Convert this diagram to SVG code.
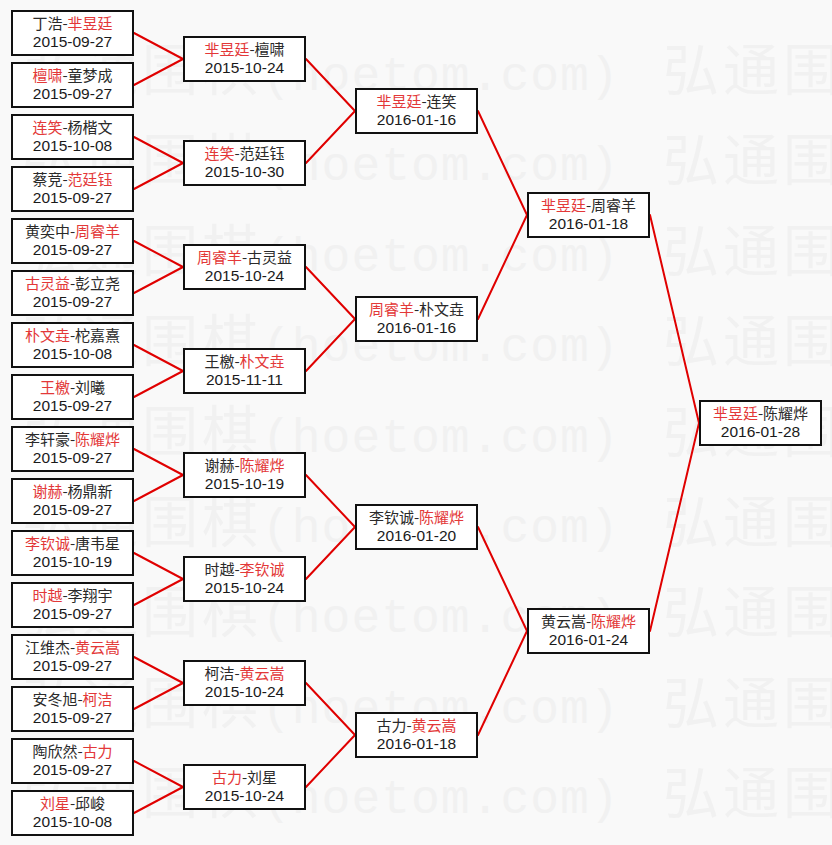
<svg xmlns="http://www.w3.org/2000/svg" width="832" height="845" viewBox="0 0 832 845">
<defs>
<style>
.bg{fill:#f9f9f9}
.wm{fill:#f1f1f1}
.wc{font-family:"Noto Sans CJK SC",sans-serif;font-size:56px;letter-spacing:4px}
.wa{font-family:"Liberation Mono",monospace;font-size:48px;letter-spacing:1px}
.box{fill:#ffffff;stroke:#111111;stroke-width:2}
.n{font-family:"Noto Sans CJK SC","Liberation Sans",sans-serif;font-size:15px;fill:#2a2a2a;text-anchor:middle}
.d{font-family:"Liberation Sans",sans-serif;font-size:15.5px;fill:#1a1a1a;text-anchor:middle}
.w{fill:#e33838}
.conn line{stroke:#e00000;stroke-width:2;stroke-linecap:round}
</style>
</defs>
<rect class="bg" x="0" y="0" width="832" height="845"/>
<g id="watermark" class="wm">
<text class="wc" x="22" y="90">弘通围棋</text><text class="wa" x="262" y="90">(hoetom.com)</text><text class="wc" x="663" y="90">弘通围</text>
<text class="wc" x="22" y="180">弘通围棋</text><text class="wa" x="262" y="180">(hoetom.com)</text><text class="wc" x="663" y="180">弘通围</text>
<text class="wc" x="22" y="271">弘通围棋</text><text class="wa" x="262" y="271">(hoetom.com)</text><text class="wc" x="663" y="271">弘通围</text>
<text class="wc" x="22" y="361">弘通围棋</text><text class="wa" x="262" y="361">(hoetom.com)</text><text class="wc" x="663" y="361">弘通围</text>
<text class="wc" x="22" y="452">弘通围棋</text><text class="wa" x="262" y="452">(hoetom.com)</text><text class="wc" x="663" y="452">弘通围</text>
<text class="wc" x="22" y="542">弘通围棋</text><text class="wa" x="262" y="542">(hoetom.com)</text><text class="wc" x="663" y="542">弘通围</text>
<text class="wc" x="22" y="632">弘通围棋</text><text class="wa" x="262" y="632">(hoetom.com)</text><text class="wc" x="663" y="632">弘通围</text>
<text class="wc" x="22" y="723">弘通围棋</text><text class="wa" x="262" y="723">(hoetom.com)</text><text class="wc" x="663" y="723">弘通围</text>
<text class="wc" x="22" y="813">弘通围棋</text><text class="wa" x="262" y="813">(hoetom.com)</text><text class="wc" x="663" y="813">弘通围</text>
</g>
<g id="connectors" class="conn">
<line x1="134" y1="33" x2="183" y2="59"/>
<line x1="134" y1="85" x2="183" y2="59"/>
<line x1="134" y1="137" x2="183" y2="163"/>
<line x1="134" y1="189" x2="183" y2="163"/>
<line x1="134" y1="241" x2="183" y2="267"/>
<line x1="134" y1="293" x2="183" y2="267"/>
<line x1="134" y1="345" x2="183" y2="371"/>
<line x1="134" y1="397" x2="183" y2="371"/>
<line x1="134" y1="449" x2="183" y2="475"/>
<line x1="134" y1="501" x2="183" y2="475"/>
<line x1="134" y1="553" x2="183" y2="579"/>
<line x1="134" y1="605" x2="183" y2="579"/>
<line x1="134" y1="657" x2="183" y2="683"/>
<line x1="134" y1="709" x2="183" y2="683"/>
<line x1="134" y1="761" x2="183" y2="787"/>
<line x1="134" y1="813" x2="183" y2="787"/>
<line x1="306" y1="59" x2="355" y2="111"/>
<line x1="306" y1="163" x2="355" y2="111"/>
<line x1="306" y1="267" x2="355" y2="319"/>
<line x1="306" y1="371" x2="355" y2="319"/>
<line x1="306" y1="475" x2="355" y2="527"/>
<line x1="306" y1="579" x2="355" y2="527"/>
<line x1="306" y1="683" x2="355" y2="735"/>
<line x1="306" y1="787" x2="355" y2="735"/>
<line x1="478" y1="111" x2="527" y2="215"/>
<line x1="478" y1="319" x2="527" y2="215"/>
<line x1="478" y1="527" x2="527" y2="631"/>
<line x1="478" y1="735" x2="527" y2="631"/>
<line x1="650" y1="215" x2="699" y2="423"/>
<line x1="650" y1="631" x2="699" y2="423"/>
</g>
<g id="r1-1"><rect class="box" x="12" y="11" width="121" height="44"/><text class="n" x="72.5" y="29">丁浩-<tspan class="w">芈昱廷</tspan></text><text class="d" x="72.5" y="47">2015-09-27</text></g>
<g id="r1-2"><rect class="box" x="12" y="63" width="121" height="44"/><text class="n" x="72.5" y="81"><tspan class="w">檀啸</tspan>-童梦成</text><text class="d" x="72.5" y="99">2015-09-27</text></g>
<g id="r1-3"><rect class="box" x="12" y="115" width="121" height="44"/><text class="n" x="72.5" y="133"><tspan class="w">连笑</tspan>-杨楷文</text><text class="d" x="72.5" y="151">2015-10-08</text></g>
<g id="r1-4"><rect class="box" x="12" y="167" width="121" height="44"/><text class="n" x="72.5" y="185">蔡竞-<tspan class="w">范廷钰</tspan></text><text class="d" x="72.5" y="203">2015-09-27</text></g>
<g id="r1-5"><rect class="box" x="12" y="219" width="121" height="44"/><text class="n" x="72.5" y="237">黄奕中-<tspan class="w">周睿羊</tspan></text><text class="d" x="72.5" y="255">2015-09-27</text></g>
<g id="r1-6"><rect class="box" x="12" y="271" width="121" height="44"/><text class="n" x="72.5" y="289"><tspan class="w">古灵益</tspan>-彭立尧</text><text class="d" x="72.5" y="307">2015-09-27</text></g>
<g id="r1-7"><rect class="box" x="12" y="323" width="121" height="44"/><text class="n" x="72.5" y="341"><tspan class="w">朴文垚</tspan>-柁嘉熹</text><text class="d" x="72.5" y="359">2015-10-08</text></g>
<g id="r1-8"><rect class="box" x="12" y="375" width="121" height="44"/><text class="n" x="72.5" y="393"><tspan class="w">王檄</tspan>-刘曦</text><text class="d" x="72.5" y="411">2015-09-27</text></g>
<g id="r1-9"><rect class="box" x="12" y="427" width="121" height="44"/><text class="n" x="72.5" y="445">李轩豪-<tspan class="w">陈耀烨</tspan></text><text class="d" x="72.5" y="463">2015-09-27</text></g>
<g id="r1-10"><rect class="box" x="12" y="479" width="121" height="44"/><text class="n" x="72.5" y="497"><tspan class="w">谢赫</tspan>-杨鼎新</text><text class="d" x="72.5" y="515">2015-09-27</text></g>
<g id="r1-11"><rect class="box" x="12" y="531" width="121" height="44"/><text class="n" x="72.5" y="549"><tspan class="w">李钦诚</tspan>-唐韦星</text><text class="d" x="72.5" y="567">2015-10-19</text></g>
<g id="r1-12"><rect class="box" x="12" y="583" width="121" height="44"/><text class="n" x="72.5" y="601"><tspan class="w">时越</tspan>-李翔宇</text><text class="d" x="72.5" y="619">2015-09-27</text></g>
<g id="r1-13"><rect class="box" x="12" y="635" width="121" height="44"/><text class="n" x="72.5" y="653">江维杰-<tspan class="w">黄云嵩</tspan></text><text class="d" x="72.5" y="671">2015-09-27</text></g>
<g id="r1-14"><rect class="box" x="12" y="687" width="121" height="44"/><text class="n" x="72.5" y="705">安冬旭-<tspan class="w">柯洁</tspan></text><text class="d" x="72.5" y="723">2015-09-27</text></g>
<g id="r1-15"><rect class="box" x="12" y="739" width="121" height="44"/><text class="n" x="72.5" y="757">陶欣然-<tspan class="w">古力</tspan></text><text class="d" x="72.5" y="775">2015-09-27</text></g>
<g id="r1-16"><rect class="box" x="12" y="791" width="121" height="44"/><text class="n" x="72.5" y="809"><tspan class="w">刘星</tspan>-邱峻</text><text class="d" x="72.5" y="827">2015-10-08</text></g>
<g id="r2-1"><rect class="box" x="184" y="37" width="121" height="44"/><text class="n" x="244.5" y="55"><tspan class="w">芈昱廷</tspan>-檀啸</text><text class="d" x="244.5" y="73">2015-10-24</text></g>
<g id="r2-2"><rect class="box" x="184" y="141" width="121" height="44"/><text class="n" x="244.5" y="159"><tspan class="w">连笑</tspan>-范廷钰</text><text class="d" x="244.5" y="177">2015-10-30</text></g>
<g id="r2-3"><rect class="box" x="184" y="245" width="121" height="44"/><text class="n" x="244.5" y="263"><tspan class="w">周睿羊</tspan>-古灵益</text><text class="d" x="244.5" y="281">2015-10-24</text></g>
<g id="r2-4"><rect class="box" x="184" y="349" width="121" height="44"/><text class="n" x="244.5" y="367">王檄-<tspan class="w">朴文垚</tspan></text><text class="d" x="244.5" y="385">2015-11-11</text></g>
<g id="r2-5"><rect class="box" x="184" y="453" width="121" height="44"/><text class="n" x="244.5" y="471">谢赫-<tspan class="w">陈耀烨</tspan></text><text class="d" x="244.5" y="489">2015-10-19</text></g>
<g id="r2-6"><rect class="box" x="184" y="557" width="121" height="44"/><text class="n" x="244.5" y="575">时越-<tspan class="w">李钦诚</tspan></text><text class="d" x="244.5" y="593">2015-10-24</text></g>
<g id="r2-7"><rect class="box" x="184" y="661" width="121" height="44"/><text class="n" x="244.5" y="679">柯洁-<tspan class="w">黄云嵩</tspan></text><text class="d" x="244.5" y="697">2015-10-24</text></g>
<g id="r2-8"><rect class="box" x="184" y="765" width="121" height="44"/><text class="n" x="244.5" y="783"><tspan class="w">古力</tspan>-刘星</text><text class="d" x="244.5" y="801">2015-10-24</text></g>
<g id="r3-1"><rect class="box" x="356" y="89" width="121" height="44"/><text class="n" x="416.5" y="107"><tspan class="w">芈昱廷</tspan>-连笑</text><text class="d" x="416.5" y="125">2016-01-16</text></g>
<g id="r3-2"><rect class="box" x="356" y="297" width="121" height="44"/><text class="n" x="416.5" y="315"><tspan class="w">周睿羊</tspan>-朴文垚</text><text class="d" x="416.5" y="333">2016-01-16</text></g>
<g id="r3-3"><rect class="box" x="356" y="505" width="121" height="44"/><text class="n" x="416.5" y="523">李钦诚-<tspan class="w">陈耀烨</tspan></text><text class="d" x="416.5" y="541">2016-01-20</text></g>
<g id="r3-4"><rect class="box" x="356" y="713" width="121" height="44"/><text class="n" x="416.5" y="731">古力-<tspan class="w">黄云嵩</tspan></text><text class="d" x="416.5" y="749">2016-01-18</text></g>
<g id="r4-1"><rect class="box" x="528" y="193" width="121" height="44"/><text class="n" x="588.5" y="211"><tspan class="w">芈昱廷</tspan>-周睿羊</text><text class="d" x="588.5" y="229">2016-01-18</text></g>
<g id="r4-2"><rect class="box" x="528" y="609" width="121" height="44"/><text class="n" x="588.5" y="627">黄云嵩-<tspan class="w">陈耀烨</tspan></text><text class="d" x="588.5" y="645">2016-01-24</text></g>
<g id="final"><rect class="box" x="700" y="401" width="121" height="44"/><text class="n" x="760.5" y="419"><tspan class="w">芈昱廷</tspan>-陈耀烨</text><text class="d" x="760.5" y="437">2016-01-28</text></g>
</svg>
